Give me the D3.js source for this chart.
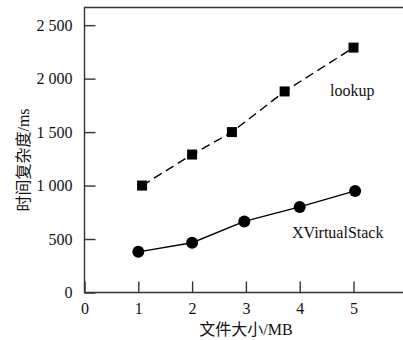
<!DOCTYPE html>
<html>
<head>
<meta charset="utf-8">
<script src="https://cdn.jsdelivr.net/npm/d3@7"></script>
<style>
  body { margin: 0; background: #fff; }
</style>
</head>
<body>
<div id="chart"></div>
<script>
// 数据
const lookupX = [1.07, 2, 2.74, 3.72, 5];
const lookupY = [1000, 1290, 1500, 1880, 2290];
const stackX = [1, 2, 2.97, 4, 5.03];
const stackY = [380, 465, 665, 800, 950];
const xTicks = [0, 1, 2, 3, 4, 5];
const yTicks = [0, 500, 1000, 1500, 2000, 2500];
const yTickLabels = ["0", "500", "1 000", "1 500", "2 000", "2 500"];

const width = 403, height = 340;
const plotLeft = 84.5, plotBottom = 292.5, plotTop = 7.5;
const serif = '"Liberation Serif", "Times New Roman", "DejaVu Serif", serif';
const cjk = '"Noto Sans CJK SC", sans-serif';

const svg = d3.select('#chart').append('svg')
  .attr('width', width).attr('height', height);

const x = d3.scaleLinear().domain([0, 6]).range([plotLeft, plotLeft + 53.8 * 6]);
const y = d3.scaleLinear().domain([0, 2665]).range([plotBottom, plotTop]);

// 边框 (左、上、下)
svg.append('path')
  .attr('d', `M${x(6)},${plotTop}H${plotLeft}V${plotBottom}H${x(6)}`)
  .attr('fill', 'none').attr('stroke', '#333').attr('stroke-width', 1.4);

// 坐标轴
const xAxis = svg.append('g')
  .attr('transform', `translate(0,${plotBottom})`)
  .call(d3.axisBottom(x).tickValues(xTicks).tickSize(-11).tickPadding(10).tickFormat(d3.format('d')));
xAxis.select('.domain').remove();
xAxis.selectAll('line').attr('stroke', '#333').attr('stroke-width', 1.4);
xAxis.selectAll('text').style('font-family', serif).style('font-size', '16px').attr('fill', '#111');

const yAxis = svg.append('g')
  .attr('transform', `translate(${plotLeft},0)`)
  .call(d3.axisLeft(y).tickValues(yTicks).tickSize(-11).tickPadding(12)
    .tickFormat((d, i) => yTickLabels[i]));
yAxis.select('.domain').remove();
yAxis.selectAll('line').attr('stroke', '#333').attr('stroke-width', 1.4);
yAxis.selectAll('text').style('font-family', serif).style('font-size', '16px').attr('fill', '#111');

// 轴标题
const xTitle = svg.append('text')
  .attr('x', 246).attr('y', 335)
  .attr('text-anchor', 'middle')
  .style('font-size', '16px').attr('fill', '#111');
xTitle.append('tspan').style('font-family', cjk).text('文件大小');
xTitle.append('tspan').style('font-family', serif).text('/MB');

const yTitle = svg.append('text')
  .attr('transform', 'translate(29,160) rotate(-90)')
  .attr('text-anchor', 'middle')
  .style('font-size', '16px').attr('fill', '#111');
yTitle.append('tspan').style('font-family', cjk).text('时间复杂度');
yTitle.append('tspan').style('font-family', serif).text('/ms');

// 折线
const line = d3.line().x(d => x(d[0])).y(d => y(d[1]));
const lookupData = lookupX.map((v, i) => [v, lookupY[i]]);
const stackData = stackX.map((v, i) => [v, stackY[i]]);

svg.append('path').datum(lookupData)
  .attr('d', line).attr('fill', 'none')
  .attr('stroke', '#000').attr('stroke-width', 1.4)
  .attr('stroke-dasharray', '9,5');

svg.append('path').datum(stackData)
  .attr('d', line).attr('fill', 'none')
  .attr('stroke', '#000').attr('stroke-width', 1.4);

svg.selectAll('.sq').data(lookupData).enter()
  .append('rect').classed('sq', true)
  .attr('x', d => x(d[0]) - 5).attr('y', d => y(d[1]) - 5)
  .attr('width', 10).attr('height', 10)
  .attr('fill', '#000');

svg.selectAll('.dot').data(stackData).enter()
  .append('circle').classed('dot', true)
  .attr('cx', d => x(d[0])).attr('cy', d => y(d[1]))
  .attr('r', 6).attr('fill', '#000');

// 系列标签
svg.append('text').attr('x', 330).attr('y', 96)
  .style('font-family', serif).style('font-size', '16px').attr('fill', '#111').text('lookup');
svg.append('text').attr('x', 292).attr('y', 238)
  .style('font-family', serif).style('font-size', '16px').attr('fill', '#111').text('XVirtualStack');
</script>
</body>
</html>
